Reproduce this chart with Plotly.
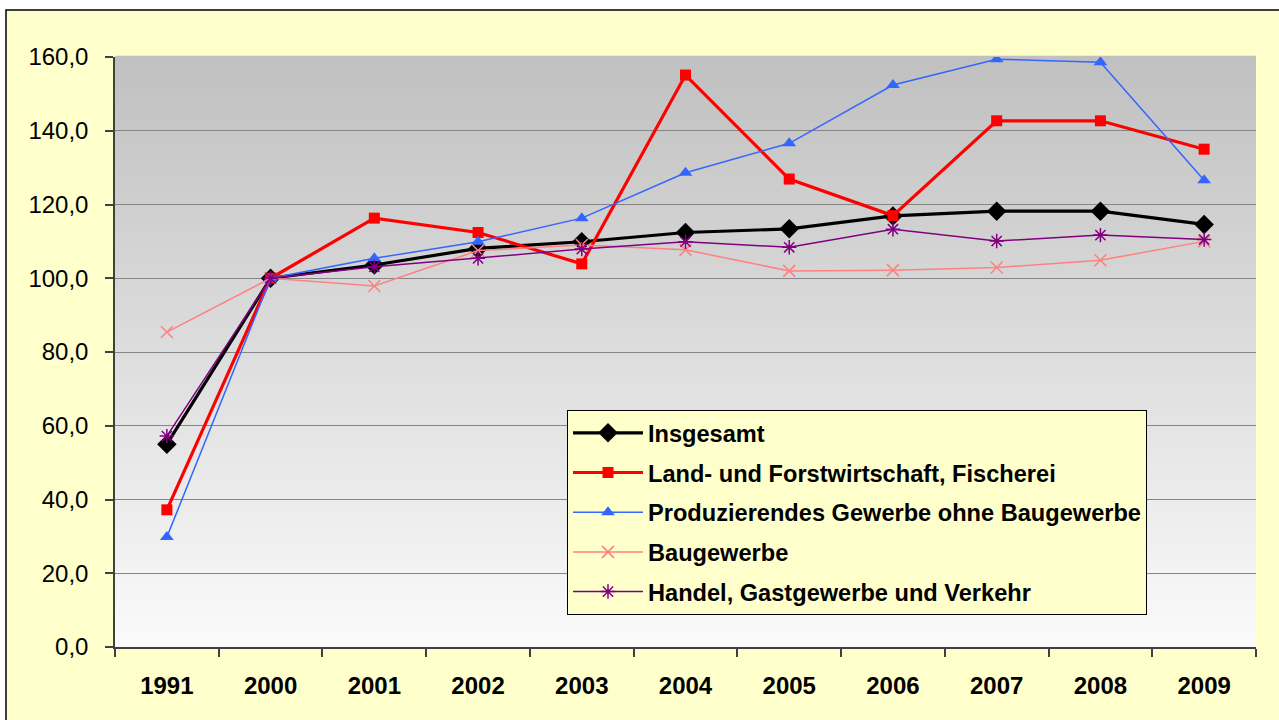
import plotly.graph_objects as go

years = ["1991", "2000", "2001", "2002", "2003", "2004", "2005", "2006", "2007", "2008", "2009"]

insgesamt = [55.0, 100.0, 103.6, 108.1, 109.9, 112.4, 113.4, 116.9, 118.2, 118.2, 114.6]
land = [37.2, 100.0, 116.3, 112.4, 103.9, 155.1, 126.9, 117.0, 142.7, 142.7, 135.0]
produz = [29.8, 100.0, 105.4, 109.9, 116.3, 128.6, 136.6, 152.4, 159.4, 158.6, 126.6]
bau = [85.4, 100.0, 97.9, 107.5, 109.0, 107.7, 102.0, 102.2, 102.9, 104.9, 110.0]
handel = [57.2, 100.0, 103.1, 105.4, 107.9, 109.9, 108.4, 113.3, 110.1, 111.7, 110.5]

names = ["Insgesamt", "Land- und Forstwirtschaft, Fischerei",
         "Produzierendes Gewerbe ohne Baugewerbe", "Baugewerbe",
         "Handel, Gastgewerbe und Verkehr"]

fig = go.Figure()

styles = [
    (insgesamt, "#000000", 3.2, "diamond", 15, 0),
    (land, "#FF0000", 3.2, "square", 11, 0),
    (produz, "#3366FF", 1.5, "triangle-up", 12, 0),
    (bau, "#FF8080", 1.5, "x-thin-open", 12, 1.5),
    (handel, "#800080", 1.5, "asterisk-open", 12, 1.5),
]

for i, (vals, col, lw, sym, ms, mlw) in enumerate(styles):
    marker = dict(symbol=sym, size=ms, color=col)
    if mlw:
        marker["line"] = dict(color=col, width=mlw)
    fig.add_trace(go.Scatter(
        x=years, y=vals, name=names[i], mode="lines+markers",
        line=dict(color=col, width=lw), marker=marker,
        legendgroup=f"g{i}",
    ))

# geometry of plot area (pixels)
L, R, T, B = 115, 1256, 57, 647
W, H = 1279, 720

def px2x(px):
    return (px - L) / (R - L)

def py2y(py):
    return (B - py) / (B - T)

shapes = []
# outer yellow frame
shapes.append(dict(type="rect", xref="paper", yref="paper",
                   x0=px2x(6), x1=px2x(1300), y0=py2y(740), y1=py2y(10),
                   fillcolor="#FFFFCC", line=dict(color="#000000", width=1.5),
                   layer="below"))
# gradient plot background
n = 90
top = (192, 192, 192)
bot = (250, 250, 250)
for k in range(n):
    t = (k + 0.5) / n
    c = tuple(int(round(top[j] + (bot[j] - top[j]) * t)) for j in range(3))
    shapes.append(dict(type="rect", xref="paper", yref="paper",
                       x0=0, x1=1, y0=1 - (k + 1) / n, y1=1 - k / n + 0.002,
                       fillcolor="rgb(%d,%d,%d)" % c, line=dict(width=0),
                       layer="below"))

fig.update_layout(
    width=W, height=H,
    margin=dict(l=L, r=W - R, t=T, b=H - B, pad=0),
    paper_bgcolor="#FFFFFF",
    plot_bgcolor="rgba(0,0,0,0)",
    separators=",.",
    font=dict(family="Liberation Sans, Arial, sans-serif", color="#000000"),
    shapes=shapes,
    showlegend=True,
    legend=dict(
        x=px2x(567), y=py2y(410), xanchor="left", yanchor="top",
        bgcolor="#FFFFCC", bordercolor="#000000", borderwidth=1,
        font=dict(size=23.6, family="Liberation Sans, Arial, sans-serif", color="#000000", weight="bold"),
        tracegroupgap=6, itemwidth=70,
    ),
)

fig.update_xaxes(
    type="category", range=[-0.5, 10.5], showgrid=False, tickson="boundaries",
    ticks="outside", ticklen=8, tickcolor="#404040", tickwidth=1.5,
    showline=True, linecolor="#404040", linewidth=1.5,
    tickfont=dict(size=24, weight="bold"), ticklabelstandoff=16,
)
fig.update_yaxes(
    range=[0, 160], tickmode="linear", tick0=0, dtick=20, tickformat=".1f",
    showgrid=True, gridcolor="#868686", gridwidth=1, zeroline=False,
    ticks="outside", ticklen=8, tickcolor="#404040", tickwidth=1.5,
    showline=True, linecolor="#404040", linewidth=1.5,
    tickfont=dict(size=24), ticklabelstandoff=12,
)

fig.write_html("out.html", config={"displayModeBar": False},
               post_script="document.body.style.margin='0';")
